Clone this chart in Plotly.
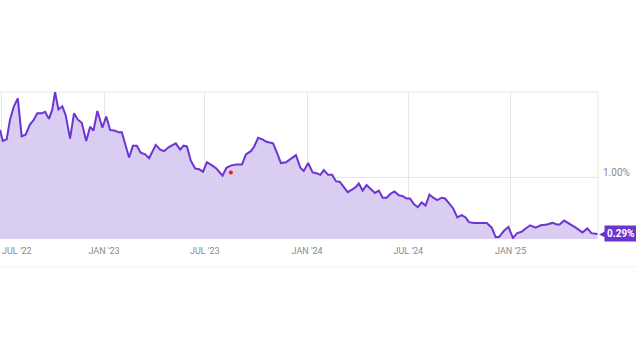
import plotly.graph_objects as go

dates = [
    "2022-06-28", "2022-07-03", "2022-07-10", "2022-07-16", "2022-07-23", "2022-07-30",
    "2022-08-06", "2022-08-13", "2022-08-21", "2022-08-27", "2022-09-03", "2022-09-11",
    "2022-09-17", "2022-09-24", "2022-09-30", "2022-10-05", "2022-10-11", "2022-10-18",
    "2022-10-24", "2022-11-01", "2022-11-08", "2022-11-15", "2022-11-22", "2022-11-30",
    "2022-12-07", "2022-12-13", "2022-12-20", "2022-12-29", "2023-01-05", "2023-01-12",
    "2023-01-21", "2023-01-27", "2023-02-02", "2023-02-15", "2023-02-22", "2023-03-01",
    "2023-03-08", "2023-03-16", "2023-03-23", "2023-03-30", "2023-04-04", "2023-04-12",
    "2023-04-19", "2023-04-27", "2023-05-04", "2023-05-10", "2023-05-18", "2023-05-24",
    "2023-05-30", "2023-06-06", "2023-06-14", "2023-06-21", "2023-06-28", "2023-07-05",
    "2023-07-14", "2023-07-22", "2023-08-02", "2023-08-09", "2023-08-18", "2023-08-27",
    "2023-09-06", "2023-09-13", "2023-09-22", "2023-09-28", "2023-10-05", "2023-10-13",
    "2023-10-20", "2023-11-01", "2023-11-08", "2023-11-15", "2023-11-24", "2023-12-04",
    "2023-12-12", "2023-12-20", "2023-12-26", "2024-01-03", "2024-01-11", "2024-01-18",
    "2024-01-25", "2024-01-31", "2024-02-08", "2024-02-15", "2024-02-22", "2024-02-29",
    "2024-03-06", "2024-03-14", "2024-03-21", "2024-03-28", "2024-04-03", "2024-04-10",
    "2024-04-17", "2024-04-24", "2024-05-02", "2024-05-09", "2024-05-16", "2024-05-23",
    "2024-05-30", "2024-06-06", "2024-06-14", "2024-06-21", "2024-06-28", "2024-07-04",
    "2024-07-11", "2024-07-18", "2024-07-25", "2024-08-01", "2024-08-08", "2024-08-15",
    "2024-08-22", "2024-08-30", "2024-09-05", "2024-09-12", "2024-09-20", "2024-09-27",
    "2024-10-05", "2024-10-12", "2024-10-18", "2024-10-27", "2024-11-07", "2024-11-19",
    "2024-11-28", "2024-12-05", "2024-12-11", "2024-12-20", "2024-12-28", "2025-01-05",
    "2025-01-13", "2025-01-21", "2025-01-28", "2025-02-05", "2025-02-15", "2025-02-24",
    "2025-03-07", "2025-03-17", "2025-03-25", "2025-03-30", "2025-04-07", "2025-04-17",
    "2025-04-28", "2025-05-10", "2025-05-19", "2025-05-26", "2025-06-06",
]

values = [
    1.61, 1.47, 1.49, 1.74, 1.91, 2.01,
    1.53, 1.55, 1.68, 1.73, 1.82, 1.82,
    1.84, 1.75, 1.87, 2.09, 1.87, 1.91,
    1.80, 1.50, 1.82, 1.74, 1.70, 1.47,
    1.65, 1.60, 1.85, 1.64, 1.78, 1.61,
    1.60, 1.58, 1.58, 1.26, 1.41, 1.41,
    1.32, 1.30, 1.25, 1.36, 1.42, 1.36,
    1.34, 1.39, 1.42, 1.44, 1.36, 1.41,
    1.40, 1.22, 1.12, 1.11, 1.08, 1.20,
    1.16, 1.12, 1.03, 1.13, 1.16, 1.17,
    1.17, 1.30, 1.34, 1.40, 1.51, 1.49,
    1.46, 1.44, 1.32, 1.19, 1.20, 1.25,
    1.29, 1.13, 1.09, 1.19, 1.07, 1.06,
    1.04, 1.10, 1.04, 1.04, 0.96, 0.95,
    0.89, 0.82, 0.85, 0.88, 0.93, 0.84,
    0.91, 0.86, 0.81, 0.84, 0.75, 0.75,
    0.80, 0.83, 0.78, 0.77, 0.74, 0.74,
    0.67, 0.63, 0.69, 0.65, 0.79, 0.75,
    0.72, 0.75, 0.74, 0.68, 0.61, 0.50,
    0.53, 0.50, 0.44, 0.43, 0.43, 0.43,
    0.37, 0.25, 0.25, 0.33, 0.38, 0.24,
    0.30, 0.32, 0.36, 0.40, 0.37, 0.40,
    0.41, 0.43, 0.41, 0.41, 0.46, 0.42,
    0.37, 0.31, 0.36, 0.30, 0.29,
]

marker_dates = ["2023-08-17"]
marker_values = [1.07]

tick_dates = ["2022-07-01", "2023-01-01", "2023-07-01", "2024-01-01", "2024-07-01", "2025-01-01"]
tick_labels = ["JUL '22", "JAN '23", "JUL '23", "JAN '24", "JUL '24", "JAN '25"]

y_ticks = [1.0]
y_tick_labels = ["1.00%"]

last_label = "0.29%"

LINE = "#6c35d2"
FILL = "#d9cdf1"
GRID = "#e6e6e6"
TICK_FONT = dict(size=9, color="#8a8a8a", family="Roboto")

fig = go.Figure()
fig.add_trace(go.Scatter(
    x=dates, y=values, mode="lines",
    line=dict(color=LINE, width=2),
    fill="tozeroy", fillcolor=FILL,
    hoverinfo="skip", showlegend=False,
))
fig.add_trace(go.Scatter(
    x=marker_dates, y=marker_values, mode="markers",
    marker=dict(color="#ee1c1c", size=4),
    hoverinfo="skip", showlegend=False,
))

# the first tick sits on the left edge: its label is placed inside the page
shown_tick_text = [""] + tick_labels[1:]

fig.update_layout(
    width=636, height=358,
    margin=dict(l=0, r=38, t=92, b=119),
    paper_bgcolor="white", plot_bgcolor="white",
    font=dict(family="Roboto", color="#8a8a8a"),
    xaxis=dict(
        type="date",
        range=["2022-06-28", "2025-06-07"],
        tickvals=tick_dates, ticktext=shown_tick_text,
        showgrid=True, gridcolor=GRID, gridwidth=1,
        showline=False, zeroline=False, ticks="",
        ticklabeloverflow="allow", automargin=False,
        ticklabelstandoff=5,
        tickfont=TICK_FONT,
    ),
    yaxis=dict(
        range=[0.226, 2.091],
        side="right",
        tickvals=y_ticks, ticktext=y_tick_labels,
        showgrid=True, gridcolor=GRID, gridwidth=1,
        zeroline=False, showline=False, ticks="",
        ticklabelshift=-5, ticklabelstandoff=4, automargin=False,
        tickfont=dict(size=10, color="#8a8a8a", family="Roboto"),
    ),
    shapes=[
        dict(type="line", xref="paper", yref="paper", x0=0, x1=1, y0=1, y1=1,
             line=dict(color=GRID, width=1), layer="below"),
        dict(type="line", xref="paper", yref="paper", x0=1, x1=1, y0=0, y1=1,
             line=dict(color=GRID, width=1), layer="below"),
        dict(type="line", xref="paper", yref="paper", x0=-0.01, x1=1.07, y0=-0.19, y1=-0.19,
             line=dict(color="#f0f0f0", width=1)),
    ],
    annotations=[
        dict(x=0, y=-0.085, xref="paper", yref="paper",
             text=tick_labels[0], showarrow=False,
             xanchor="left", yanchor="middle", xshift=0,
             font=TICK_FONT),
        dict(x=dates[-1], y=values[-1], xref="x", yref="y",
             text="<b>" + last_label + "</b>", showarrow=False,
             xanchor="left", yanchor="middle", xshift=7,
             bgcolor=LINE, borderpad=2,
             font=dict(color="white", size=10, family="Roboto")),
        dict(x=dates[-1], y=values[-1], xref="x", yref="y",
             text="◀", showarrow=False,
             xanchor="left", yanchor="middle", xshift=0,
             font=dict(color=LINE, size=10, family="DejaVu Sans")),
    ],
)

fig.write_html("out.html", config={"displayModeBar": False},
               post_script="document.body.style.margin='0';")
